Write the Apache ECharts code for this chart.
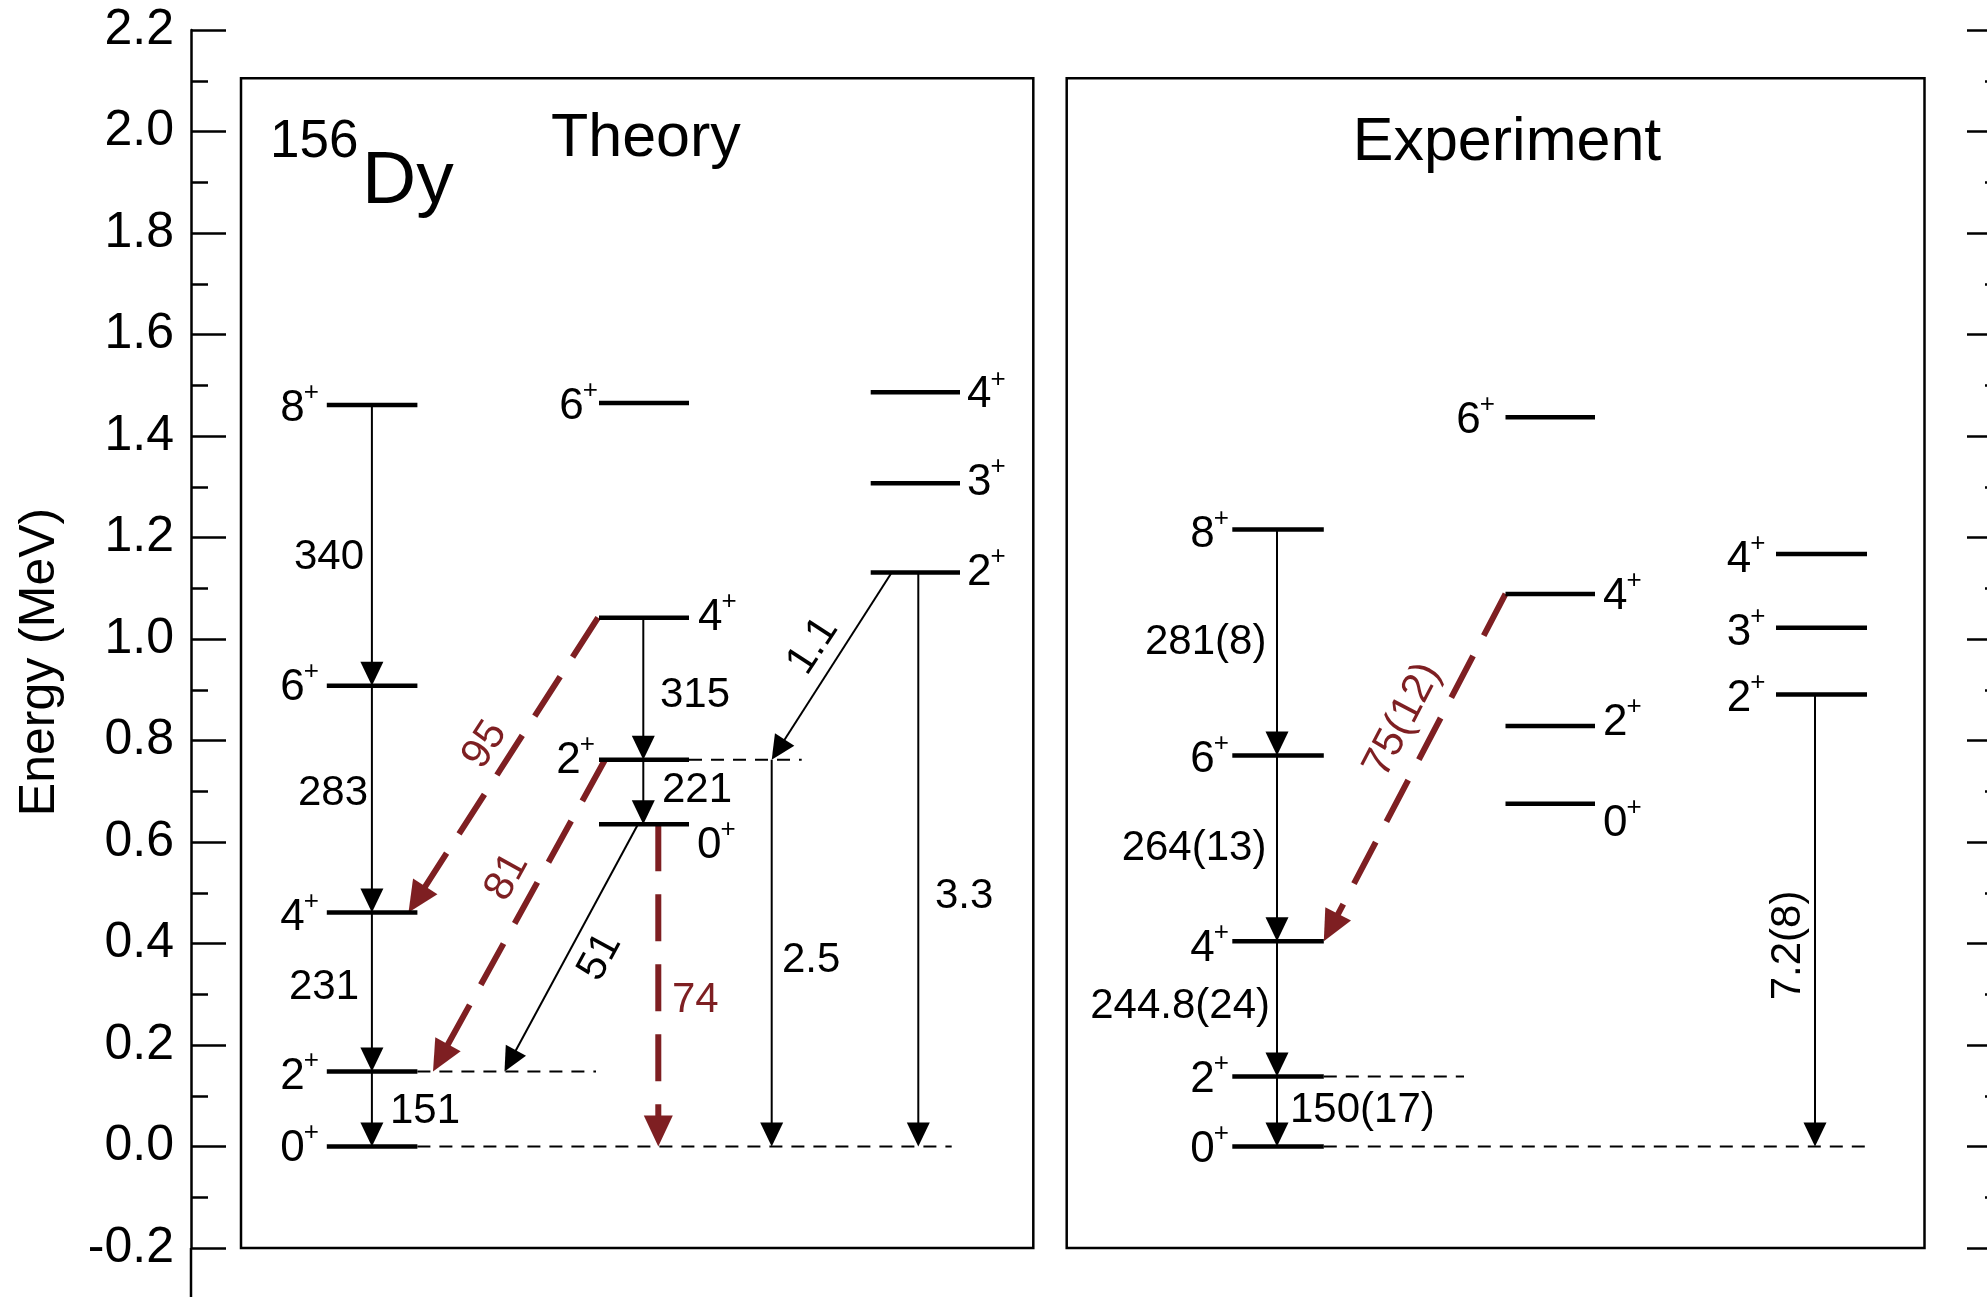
<!DOCTYPE html>
<html><head><meta charset="utf-8">
<script src="https://cdn.jsdelivr.net/npm/echarts@6/dist/echarts.min.js"></script>
<style>html,body{margin:0;padding:0;background:#fff}#c{width:1987px;height:1297px}</style>
</head><body><div id="c"></div>
<script>
const FONT = '"Liberation Sans", Arial, Helvetica, sans-serif';
const RED = '#7e1f22';

// ---- axis ----
const yMin = -0.2, yMax = 2.2, yStep = 0.2;
const yName = 'Energy (MeV)';

// ---- titles ----
const titleTheory = 'Theory';
const titleExp = 'Experiment';
const massNumber = '156';
const element = 'Dy';

// ---- Theory level energies (MeV) ----
const thGroundSpins = ['0', '2', '4', '6', '8'];
const thGroundE     = [0.000, 0.148, 0.461, 0.908, 1.461];
const thBand2Spins  = ['0', '2', '4', '6'];
const thBand2E      = [0.635, 0.762, 1.042, 1.465];
const thGammaSpins  = ['2', '3', '4'];
const thGammaE      = [1.131, 1.307, 1.486];

// ---- Experiment level energies (MeV) ----
const exGroundSpins = ['0', '2', '4', '6', '8'];
const exGroundE     = [0.000, 0.1378, 0.4042, 0.7704, 1.2156];
const exBand2Spins  = ['0', '2', '4', '6'];
const exBand2E      = [0.6756, 0.8286, 1.0888, 1.4370];
const exGammaSpins  = ['2', '3', '4'];
const exGammaE      = [0.8905, 1.0220, 1.1675];

// ---- B(E2) labels ----
const thGroundBE2 = ['151', '231', '283', '340'];   // 2->0, 4->2, 6->4, 8->6
const thBand2BE2  = ['221', '315'];                 // 2->0, 4->2 in band 2
const thInterBE2  = ['74', '51', '95', '81'];       // 0->0, 0->2, 4->4, 2->2
const thGammaBE2  = ['1.1', '2.5', '3.3'];
const exGroundBE2 = ['150(17)', '244.8(24)', '264(13)', '281(8)'];
const exInterBE2  = ['75(12)'];
const exGammaBE2  = ['7.2(8)'];

// ---- layout (horizontal positions, px from left axis) ----
const TH_X = { g: [135.8, 226.4], gc: 180.9, b: [408, 498], bc: 452.3, m: [679.7, 769], mc: 727.3 };
const EX_X = { g: [1041.3, 1132.8], gc: 1086, b: [1314.5, 1404], m: [1585, 1676], mc: 1624 };
const BOX_TOP = 2.105;
const boxes = [[50, 842.3], [875.7, 1733.5]];

// levels
const levels = [];
function addBand(xr, Es) { Es.forEach(E => levels.push({ x1: xr[0], x2: xr[1], E })); }
addBand(TH_X.g, thGroundE); addBand(TH_X.b, thBand2E); addBand(TH_X.m, thGammaE);
addBand(EX_X.g, exGroundE); addBand(EX_X.b, exBand2E); addBand(EX_X.m, exGammaE);

// thin dashed guide lines
const guides = [
  { x1: 226.4, x2: 405, E: thGroundE[1] },
  { x1: 226.4, x2: 760.7, E: thGroundE[0] },
  { x1: 498, x2: 610.7, E: thBand2E[1] },
  { x1: 1132.8, x2: 1273, E: exGroundE[1] },
  { x1: 1132.8, x2: 1682.7, E: exGroundE[0] }
];

// transitions
const trans = [
  { x1: TH_X.gc, E1: thGroundE[4], x2: TH_X.gc, E2: thGroundE[3] },
  { x1: TH_X.gc, E1: thGroundE[3], x2: TH_X.gc, E2: thGroundE[2] },
  { x1: TH_X.gc, E1: thGroundE[2], x2: TH_X.gc, E2: thGroundE[1] },
  { x1: TH_X.gc, E1: thGroundE[1], x2: TH_X.gc, E2: thGroundE[0] },
  { x1: TH_X.bc, E1: thBand2E[2], x2: TH_X.bc, E2: thBand2E[1] },
  { x1: TH_X.bc, E1: thBand2E[1], x2: TH_X.bc, E2: thBand2E[0] },
  { x1: 467.3, E1: thBand2E[0], x2: 467.3, E2: thGroundE[0], red: true },
  { x1: 447, E1: thBand2E[0], x2: 313.5, E2: thGroundE[1] },
  { x1: 407, E1: thBand2E[2], x2: 217.5, E2: thGroundE[2], red: true },
  { x1: 414, E1: thBand2E[1], x2: 242, E2: thGroundE[1], red: true },
  { x1: 700.7, E1: thGammaE[0], x2: 580.7, E2: thBand2E[1] },
  { x1: 580.7, E1: thBand2E[1], x2: 580.7, E2: thGroundE[0] },
  { x1: TH_X.mc, E1: thGammaE[0], x2: TH_X.mc, E2: thGroundE[0] },
  { x1: EX_X.gc, E1: exGroundE[4], x2: EX_X.gc, E2: exGroundE[3] },
  { x1: EX_X.gc, E1: exGroundE[3], x2: EX_X.gc, E2: exGroundE[2] },
  { x1: EX_X.gc, E1: exGroundE[2], x2: EX_X.gc, E2: exGroundE[1] },
  { x1: EX_X.gc, E1: exGroundE[1], x2: EX_X.gc, E2: exGroundE[0] },
  { x1: 1314.5, E1: exBand2E[2], x2: 1132.8, E2: exGroundE[2], red: true },
  { x1: EX_X.mc, E1: exGammaE[0], x2: EX_X.mc, E2: exGroundE[0] }
];

// transition labels (x: px from axis, E: label centre height, align, rotation deg)
const tLabels = [
  { t: thGroundBE2[3], x: 173, E: 1.1615, align: 'right' },
  { t: thGroundBE2[2], x: 177, E: 0.6967, align: 'right' },
  { t: thGroundBE2[1], x: 168, E: 0.3126, align: 'right' },
  { t: thGroundBE2[0], x: 199, E: 0.0689, align: 'left' },
  { t: thBand2BE2[1], x: 469, E: 0.8897, align: 'left' },
  { t: thBand2BE2[0], x: 471, E: 0.7026, align: 'left' },
  { t: thInterBE2[0], x: 481, E: 0.2870, align: 'left', red: true },
  { t: thGammaBE2[1], x: 591, E: 0.3658, align: 'left' },
  { t: thGammaBE2[2], x: 744, E: 0.4928, align: 'left' },
  { t: thInterBE2[2], x: 294, E: 0.7912, align: 'center', rot: 57, red: true },
  { t: thInterBE2[3], x: 316, E: 0.5312, align: 'center', rot: 61, red: true },
  { t: thInterBE2[1], x: 409, E: 0.3736, align: 'center', rot: 61.5 },
  { t: thGammaBE2[0], x: 622, E: 0.9862, align: 'center', rot: 57 },
  { t: exGroundBE2[3], x: 1075.4, E: 0.9941, align: 'right' },
  { t: exGroundBE2[2], x: 1075.4, E: 0.5864, align: 'right' },
  { t: exGroundBE2[1], x: 1079, E: 0.2758, align: 'right' },
  { t: exGroundBE2[0], x: 1099, E: 0.0703, align: 'left' },
  { t: exInterBE2[0], x: 1211.7, E: 0.8405, align: 'center', rot: 62.5, red: true },
  { t: exGammaBE2[0], x: 1597, E: 0.3961, align: 'center', rot: 90 }
];

// spin labels: side L -> x is right edge, side R -> x is left edge; dy px
const sLabels = [];
function addSpins(spins, Es, x, side, dys) {
  spins.forEach((s, i) => sLabels.push({ s, E: Es[i], x, side, dy: dys[i] }));
}
addSpins(thGroundSpins, thGroundE, 128, 'L', [2, 5, 5, 2, 4]);
addSpins(['6'], [thBand2E[3]], 407, 'L', [4]);
addSpins(['4'], [thBand2E[2]], 507, 'R', [0]);
addSpins(['2'], [thBand2E[1]], 404, 'L', [1]);
addSpins(['0'], [thBand2E[0]], 506, 'R', [22]);
addSpins(thGammaSpins, thGammaE, 776, 'R', [0, 0, 3]);
addSpins(exGroundSpins, exGroundE, 1038, 'L', [3, 3, 7, 4, 5]);
addSpins(['6'], [exBand2E[3]], 1304, 'L', [4]);
addSpins(['4', '2'], [exBand2E[2], exBand2E[1]], 1412, 'R', [3, -3]);
addSpins(['0'], [exBand2E[0]], 1412, 'R', [20]);
addSpins(exGammaSpins, exGammaE, 1574.5, 'L', [4, 5, 6]);

const SPIN_FS = 44, SUP_FS = 26, TR_FS = 42;

function lineEl(p1, p2, style) {
  return { type: 'line', shape: { x1: p1[0], y1: p1[1], x2: p2[0], y2: p2[1] }, style };
}

const option = {
  animation: false,
  backgroundColor: '#fff',
  grid: { left: 191, top: 30, width: 1811, height: 1218, containLabel: false, outerBoundsMode: 'none' },
  xAxis: { type: 'value', min: 0, max: 1811, show: false, axisLine: { onZero: false } },
  yAxis: [
    {
      type: 'value', min: yMin, max: yMax, interval: yStep, position: 'left',
      axisLine: { show: true, onZero: false, lineStyle: { color: '#000', width: 2.5 } },
      axisTick: { show: true, inside: true, length: 35, lineStyle: { color: '#000', width: 2.5 } },
      minorTick: { show: true, splitNumber: 2, length: 17, lineStyle: { color: '#000', width: 2.5 } },
      splitLine: { show: false }, minorSplitLine: { show: false },
      axisLabel: { show: true, margin: 17, fontSize: 50, color: '#000', fontFamily: FONT,
        formatter: v => v.toFixed(1) }
    },
    {
      type: 'value', min: yMin, max: yMax, interval: yStep, position: 'right',
      axisLine: { show: true, onZero: false, lineStyle: { color: '#000', width: 2.5 } },
      axisTick: { show: true, inside: true, length: 35, lineStyle: { color: '#000', width: 2.5 } },
      minorTick: { show: true, splitNumber: 2, length: 17, lineStyle: { color: '#000', width: 2.5 } },
      splitLine: { show: false }, axisLabel: { show: false }
    }
  ],
  graphic: [
    { type: 'text', x: 40, y: 662, rotation: Math.PI / 2, style: { text: yName, font: '50px ' + FONT, fill: '#000', align: 'center', verticalAlign: 'middle' } },
    { type: 'text', x: 551, y: 139, style: { text: titleTheory, font: '61px ' + FONT, fill: '#000', align: 'left', verticalAlign: 'middle' } },
    { type: 'text', x: 1507, y: 143, style: { text: titleExp, font: '61px ' + FONT, fill: '#000', align: 'center', verticalAlign: 'middle' } },
    { type: 'text', x: 270, y: 142, style: { text: massNumber, font: '53px ' + FONT, fill: '#000', align: 'left', verticalAlign: 'middle' } },
    { type: 'text', x: 362, y: 182, style: { text: element, font: '75px ' + FONT, fill: '#000', align: 'left', verticalAlign: 'middle' } }
  ],
  series: [
    { // frames + axis extension
      type: 'custom', clip: false, z: 1,
      data: [[0, yMin], ...boxes.map(b => [b[0], BOX_TOP])],
      renderItem: (params, api) => {
        const i = params.dataIndex;
        if (i === 0) {
          const p1 = api.coord([0, yMin]), p2 = api.coord([0, -0.297]);
          return lineEl(p1, p2, { stroke: '#000', lineWidth: 2.5 });
        }
        const b = boxes[i - 1];
        const p1 = api.coord([b[0], BOX_TOP]), p2 = api.coord([b[1], yMin]);
        return { type: 'rect', shape: { x: p1[0], y: p1[1], width: p2[0] - p1[0], height: p2[1] - p1[1] },
          style: { fill: 'none', stroke: '#000', lineWidth: 2.5 } };
      }
    },
    { // guides
      type: 'custom', clip: false, z: 2,
      data: guides.map(g => [g.x1, g.E]),
      renderItem: (params, api) => {
        const g = guides[params.dataIndex];
        return lineEl(api.coord([g.x1, g.E]), api.coord([g.x2, g.E]), { stroke: '#000', lineWidth: 2, lineDash: [13, 9] });
      }
    },
    { // transitions
      type: 'custom', clip: false, z: 3,
      data: trans.map(t => [t.x1, t.E1]),
      renderItem: (params, api) => {
        const t = trans[params.dataIndex];
        const p1 = api.coord([t.x1, t.E1]), p2 = api.coord([t.x2, t.E2]);
        const dx = p2[0] - p1[0], dy = p2[1] - p1[1], L = Math.hypot(dx, dy);
        const ux = dx / L, uy = dy / L, nx = -uy, ny = ux;
        const hl = t.red ? 31 : 24, hw = t.red ? 14.5 : 11.5;
        const bx = p2[0] - ux * hl, by = p2[1] - uy * hl;
        const col = t.red ? RED : '#000';
        const st = t.red ? { stroke: col, lineWidth: 6, lineDash: [47, 23] } : { stroke: col, lineWidth: 2 };
        return { type: 'group', children: [
          lineEl(p1, [bx + ux * 2, by + uy * 2], st),
          { type: 'polygon', shape: { points: [[p2[0], p2[1]], [bx + nx * hw, by + ny * hw], [bx - nx * hw, by - ny * hw]] },
            style: { fill: col, stroke: 'none' } }
        ] };
      }
    },
    { // levels
      type: 'custom', clip: false, z: 4,
      data: levels.map(l => [l.x1, l.E]),
      renderItem: (params, api) => {
        const l = levels[params.dataIndex];
        return lineEl(api.coord([l.x1, l.E]), api.coord([l.x2, l.E]), { stroke: '#000', lineWidth: 4.5 });
      }
    },
    { // transition labels
      type: 'custom', clip: false, z: 5,
      data: tLabels.map(l => [l.x, l.E]),
      renderItem: (params, api) => {
        const l = tLabels[params.dataIndex];
        const p = api.coord([l.x, l.E]);
        return { type: 'text', x: p[0], y: p[1], rotation: (l.rot || 0) * Math.PI / 180,
          style: { text: l.t, font: TR_FS + 'px ' + FONT, fill: l.red ? RED : '#000', align: l.align, verticalAlign: 'middle' } };
      }
    },
    { // spin labels
      type: 'custom', clip: false, z: 5,
      data: sLabels.map(l => [l.x, l.E]),
      renderItem: (params, api) => {
        const l = sLabels[params.dataIndex];
        const p = api.coord([l.x, l.E]);
        const y = p[1] + l.dy;
        const plusW = SUP_FS * 0.584;
        let dX, pX;
        if (l.side === 'L') { pX = p[0] - plusW; dX = pX + 1; }
        else { dX = p[0]; pX = p[0] + SPIN_FS * 0.556 - 1; }
        return { type: 'group', children: [
          { type: 'text', x: dX, y: y, style: { text: l.s, font: SPIN_FS + 'px ' + FONT, fill: '#000',
            align: l.side === 'L' ? 'right' : 'left', verticalAlign: 'middle' } },
          { type: 'text', x: pX, y: y - 16, style: { text: '+', font: SUP_FS + 'px ' + FONT, fill: '#000',
            align: 'left', verticalAlign: 'middle' } }
        ] };
      }
    }
  ]
};

const chart = echarts.init(document.getElementById('c'), null, { renderer: 'canvas', width: 1987, height: 1297 });
chart.setOption(option);
</script>
</body></html>
